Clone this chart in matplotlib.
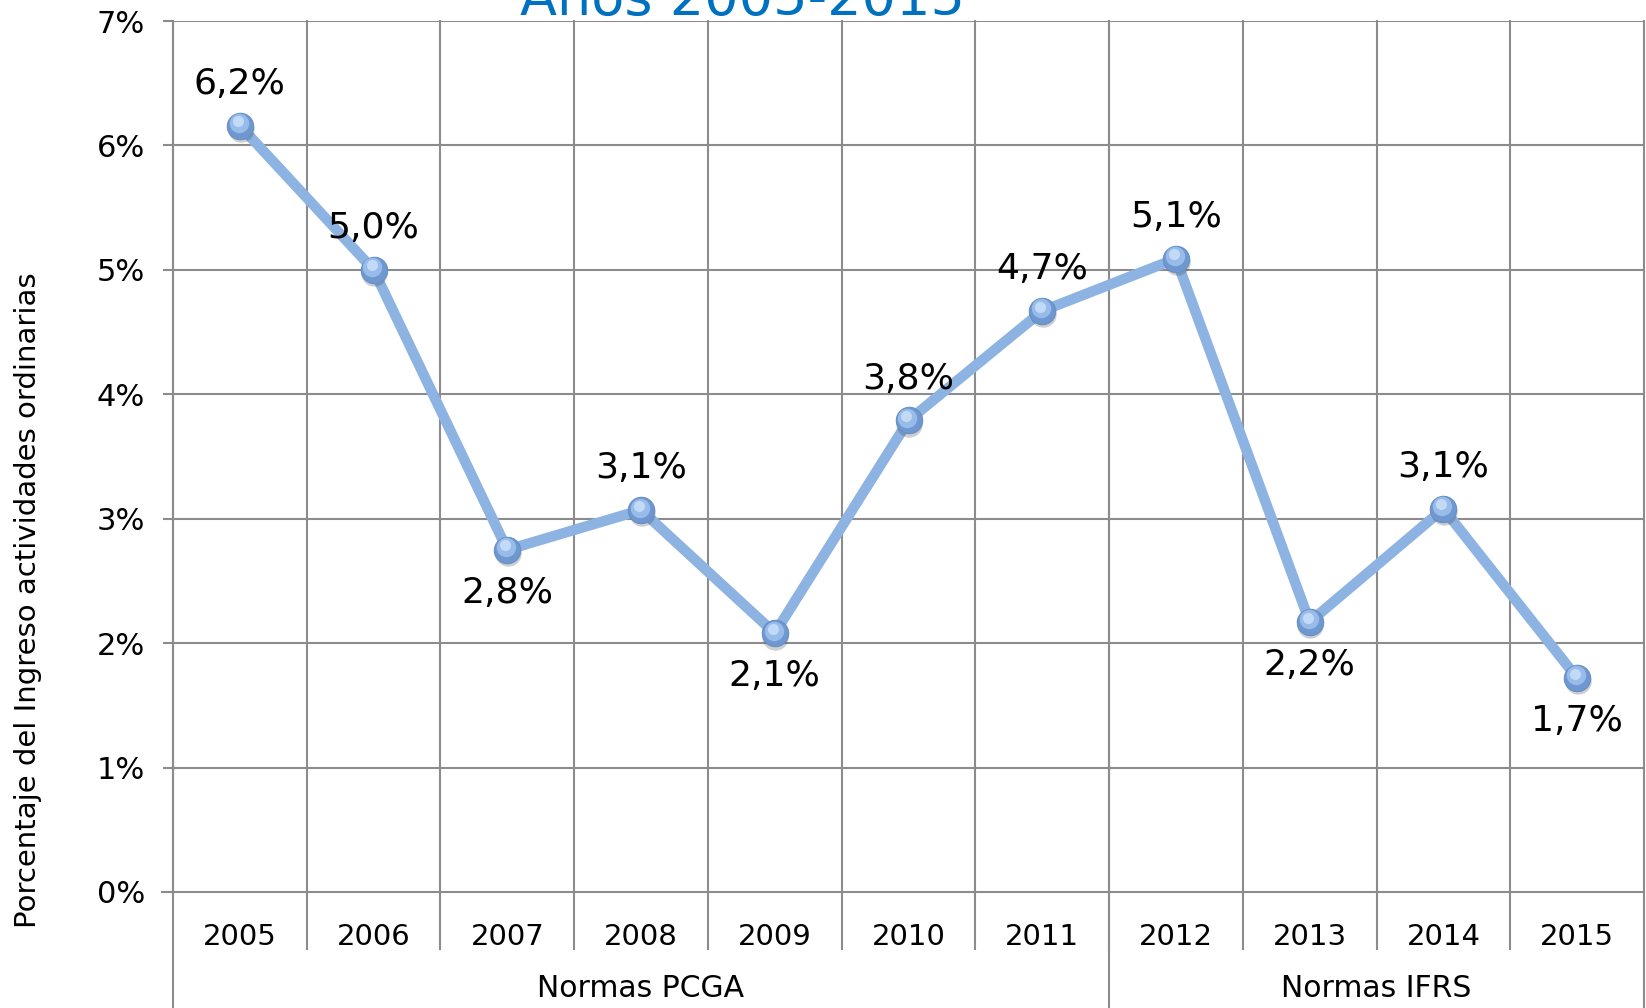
import matplotlib.pyplot as plt
import matplotlib.transforms as mtransforms
import numpy as np

years = ['2005', '2006', '2007', '2008', '2009', '2010', '2011', '2012', '2013', '2014', '2015']
values = [6.16, 5.00, 2.75, 3.07, 2.08, 3.79, 4.67, 5.09, 2.17, 3.08, 1.72]
label_side = ['above', 'above', 'below', 'above', 'below', 'above', 'above', 'above', 'below', 'above', 'below']
groups = ['Normas PCGA', 'Normas IFRS']
group_sizes = [7, 4]
y_ticks = [0, 1, 2, 3, 4, 5, 6, 7]

grid_c = '#8c8c8c'
line_c = '#8db3e2'

fig = plt.figure(figsize=(16.46, 10.08), dpi=100)
ax = fig.add_axes([0.1051, 0.1151, 0.8937, 0.8640])

x = np.arange(len(years))
ax.plot(x, values, color=line_c, linewidth=7.5, solid_capstyle='round', zorder=3)

# bolas con sombra y brillo
sh = mtransforms.offset_copy(ax.transData, fig=fig, x=0.5, y=-2.5, units='points')
ax.plot(x, values, 'o', markersize=19, markerfacecolor='#404040', markeredgecolor='none',
        alpha=0.25, transform=sh, zorder=4)
ax.plot(x, values, 'o', markersize=19, markerfacecolor='#6f98d1', markeredgecolor='#678fc8',
        markeredgewidth=0.8, zorder=5)
hl = mtransforms.offset_copy(ax.transData, fig=fig, x=-0.8, y=1.8, units='points')
ax.plot(x, values, 'o', markersize=14, markerfacecolor='#98bcea', markeredgecolor='none',
        transform=hl, zorder=6)
hl2 = mtransforms.offset_copy(ax.transData, fig=fig, x=-1.5, y=3.2, units='points')
ax.plot(x, values, 'o', markersize=8, markerfacecolor='#c2daf6', markeredgecolor='none',
        transform=hl2, zorder=7)

for xi, v, side in zip(x, values, label_side):
    txt = f'{v:.1f}%'.replace('.', ',')
    dy = 30 if side == 'above' else -31
    ax.annotate(txt, (xi, v), xytext=(0, dy), textcoords='offset points',
                ha='center', va='center', fontsize=26, color='black', zorder=8)

ax.set_xlim(-0.5, len(years) - 0.5)
ax.set_ylim(0, 7)
ax.set_yticks(y_ticks)
ax.set_yticklabels([f'{t}%' for t in y_ticks], fontsize=22)
ax.tick_params(axis='y', length=7, width=1.5, color=grid_c, pad=13, direction='out')
ax.set_xticks(x)
ax.set_xticklabels(years, fontsize=21)
ax.tick_params(axis='x', length=0, pad=22)

for s in ['top', 'right', 'bottom']:
    ax.spines[s].set_visible(False)
ax.spines['left'].set_color(grid_c)
ax.spines['left'].set_linewidth(1.5)

for t in y_ticks[1:]:
    ax.axhline(t, color=grid_c, linewidth=1.5, zorder=1)
ax.plot([-0.5 - 0.08, len(years) - 0.5], [0, 0], color=grid_c, linewidth=1.5, clip_on=False, zorder=1)

trans = mtransforms.blended_transform_factory(ax.transData, ax.transAxes)
bounds = np.cumsum([0] + group_sizes) - 0.5
for b in np.arange(0.5, len(years) - 0.5, 1):
    ax.plot([b, b], [-0.066, 1], color=grid_c, linewidth=1.5, transform=trans, clip_on=False, zorder=1)
for b in bounds:
    ax.plot([b, b], [-0.14, 1], color=grid_c, linewidth=1.5, transform=trans, clip_on=False, zorder=1)

for g, lo, hi in zip(groups, bounds[:-1], bounds[1:]):
    ax.text((lo + hi) / 2, -0.111, g, transform=trans, ha='center', va='center', fontsize=21.5)

fig.text(0.017, 0.405, 'Porcentaje del Ingreso actividades ordinarias', rotation=90,
         ha='center', va='center', fontsize=21)
fig.text(0.451, 0.9856, 'Años 2005-2015', color='#0070c0', fontsize=39,
         ha='center', va='baseline')

fig.savefig('out.png', dpi=100)
